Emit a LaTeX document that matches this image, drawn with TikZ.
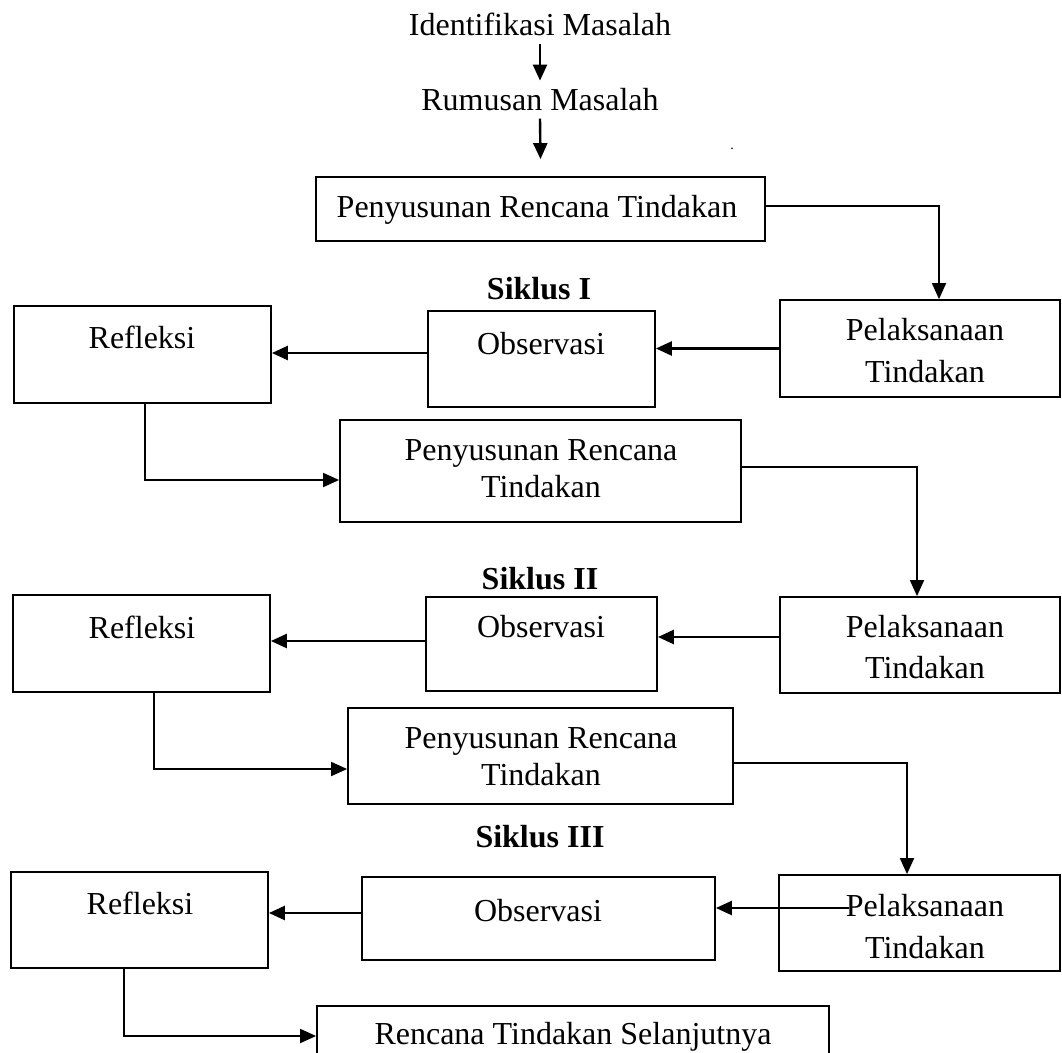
\documentclass[tikz,border=0pt]{standalone}
\usepackage{fontspec}
\setmainfont{Liberation Serif}
\usetikzlibrary{arrows.meta,calc}
\begin{document}
\begin{tikzpicture}[x=1pt,y=-1pt,
  box/.style={draw, line width=1.8pt, inner sep=0pt},
  txt/.style={inner sep=0pt, anchor=base, font=\fontsize{32}{38}\selectfont},
  hd/.style={inner sep=0pt, anchor=base, font=\fontsize{32}{38}\selectfont\bfseries},
  arr/.style={line width=2.4pt, -{Triangle[length=16pt,width=14pt]}},
  elb/.style={line width=1.8pt, -{Triangle[length=16pt,width=14pt]}}]
\useasboundingbox (0,0) rectangle (1062,1052);
\clip (0,0) rectangle (1062,1052);

% top texts
\node[txt] (t1) at (540,35) {Identifikasi Masalah};
\node[txt] (t2) at (540,110) {Rumusan Masalah};
\node[inner sep=0pt, anchor=base, font=\fontsize{14}{16}\selectfont] (dot) at (732,149) {.};

% boxes
\node[box, minimum width=449pt, minimum height=64pt] (b1) at (540.5,209) {};
\node[box, minimum width=257pt, minimum height=97pt] (r1) at (142.5,354.5) {};
\node[box, minimum width=227pt, minimum height=96pt] (o1) at (541.5,359) {};
\node[box, minimum width=280pt, minimum height=97pt] (p1) at (920,348.5) {};
\node[box, minimum width=401pt, minimum height=102pt] (q2) at (540.5,471) {};
\node[box, minimum width=257pt, minimum height=97pt] (r2) at (141.5,643.5) {};
\node[box, minimum width=231pt, minimum height=94pt] (o2) at (541.5,644) {};
\node[box, minimum width=280pt, minimum height=96pt] (p2) at (920,645) {};
\node[box, minimum width=385pt, minimum height=96pt] (q3) at (540.5,756) {};
\node[box, minimum width=257pt, minimum height=96pt] (r3) at (139.5,920) {};
\node[box, minimum width=353pt, minimum height=83pt] (o3) at (538.5,918.5) {};
\node[box, minimum width=281pt, minimum height=96pt] (p3) at (919.5,923) {};
\node[box, minimum width=512pt, minimum height=80pt] (q4) at (573,1046) {};

% texts in boxes
\node[txt] (b1t) at (537,217) {Penyusunan Rencana Tindakan};
\node[hd] (s1) at (539,299) {Siklus I};
\node[txt] (r1t) at (142,348) {Refleksi};
\node[txt] (o1t) at (541,354) {Observasi};
\node[txt] (p1a) at (925,340) {Pelaksanaan};
\node[txt] (p1b) at (925,382) {Tindakan};
\node[txt] (q2a) at (541,460) {Penyusunan Rencana};
\node[txt] (q2b) at (541,497) {Tindakan};
\node[hd] (s2) at (540,589) {Siklus II};
\node[txt] (r2t) at (142,638) {Refleksi};
\node[txt] (o2t) at (541,637) {Observasi};
\node[txt] (p2a) at (925,637) {Pelaksanaan};
\node[txt] (p2b) at (925,678) {Tindakan};
\node[txt] (q3a) at (541,748) {Penyusunan Rencana};
\node[txt] (q3b) at (541,785) {Tindakan};
\node[hd] (s3) at (540,847) {Siklus III};
\node[txt] (r3t) at (140,914) {Refleksi};
\node[txt] (o3t) at (538,921) {Observasi};
\node[txt] (p3a) at (925,916) {Pelaksanaan};
\node[txt] (p3b) at (925,958) {Tindakan};
\node[txt] (q4t) at (573,1044) {Rencana Tindakan Selanjutnya};

% connectors
\draw[arr] ($(t1.south)+(0,8)$) -- ($(t2.north)+(0,-7)$);
\draw[arr] ($(t2.south)+(0,8)$) -- ($(b1.north)+(0,-17)$);
\draw[elb] ([yshift=3pt]b1.east) -| ($(p1.north)+(19,0)$);
\draw[arr] (p1.west) -- (p1.west -| o1.east);
\draw[arr] ([yshift=6pt]o1.west) -- ([yshift=6pt]o1.west -| r1.east);
\draw[elb] ([xshift=2.5pt]r1.south) |- ([yshift=-9pt]q2.west);
\draw[elb] ([yshift=4pt]q2.east) -| ([xshift=-3pt]p2.north);
\draw[arr] ([yshift=8pt]p2.west) -- ([yshift=8pt]p2.west -| o2.east);
\draw[arr] ([yshift=3pt]o2.west) -- ([yshift=3pt]o2.west -| r2.east);
\draw[elb] ([xshift=12.5pt]r2.south) |- ([yshift=-13pt]q3.west);
\draw[elb] ([yshift=-7pt]q3.east) -| ([xshift=-12.5pt]p3.north);
\coordinate (p3in) at ($(p3.west)+(71,-15)$);
\draw[arr] (p3in) -- (p3in -| o3.east);
\draw[arr] ([yshift=5.5pt]o3.west) -- ([yshift=5.5pt]o3.west -| r3.east);
\draw[elb] ([xshift=-15.5pt]r3.south) |- ([yshift=10pt]q4.west);
\end{tikzpicture}
\end{document}
